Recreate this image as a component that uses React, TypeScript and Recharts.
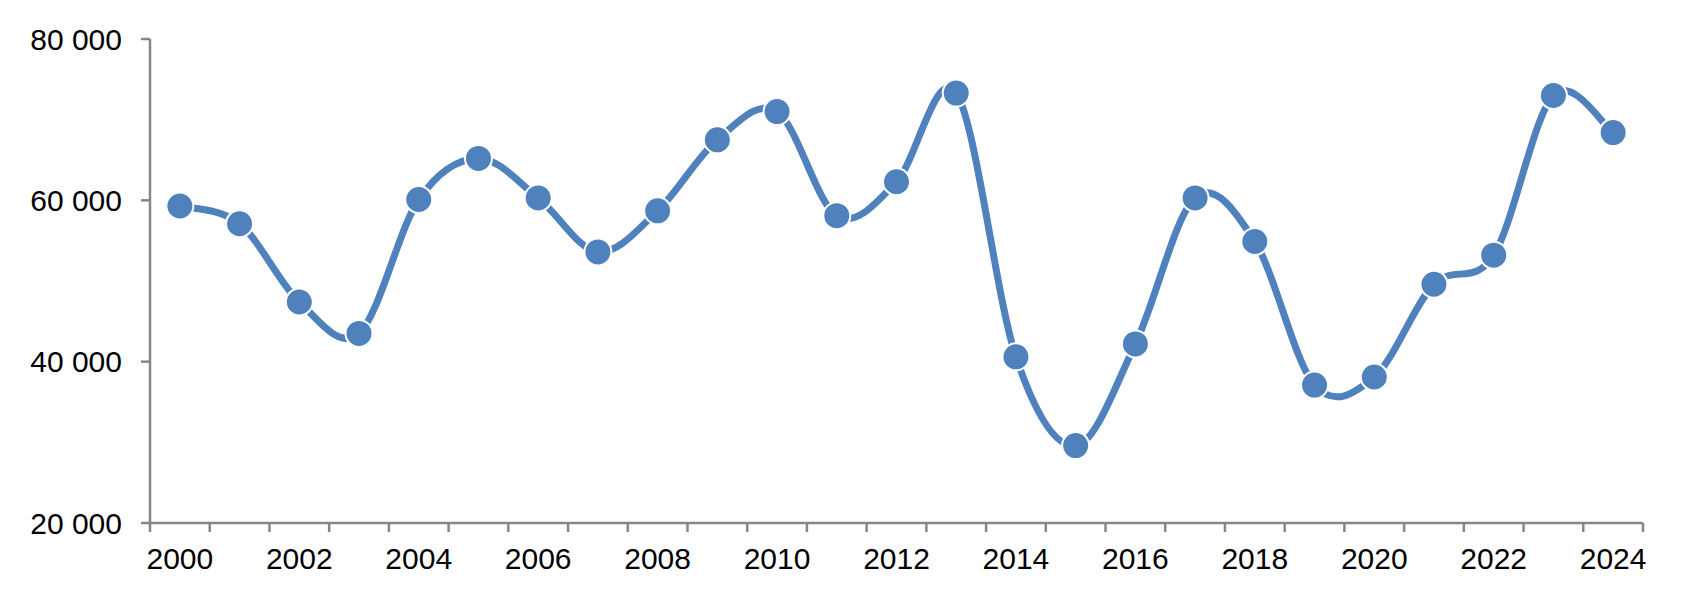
import type { ReactElement } from "react";
import { Line, LineChart, XAxis, YAxis } from "recharts";

const BLUE = "#4F81BD";
const AXIS = "#868686";
const FONT = "'Liberation Sans', Arial, sans-serif";

const years = [
  2000, 2001, 2002, 2003, 2004, 2005, 2006, 2007, 2008, 2009, 2010, 2011, 2012,
  2013, 2014, 2015, 2016, 2017, 2018, 2019, 2020, 2021, 2022, 2023, 2024,
];
const values = [
  59300, 57100, 47400, 43500, 60100, 65200, 60300, 53600, 58700, 67500, 71000, 58100, 62300,
  73300, 40600, 29600, 42200, 60300, 54900, 37100, 38100, 49600, 53200, 73000, 68400,
];
const labelYears = [2000, 2002, 2004, 2006, 2008, 2010, 2012, 2014, 2016, 2018, 2020, 2022, 2024];
const yTicks = [20000, 40000, 60000, 80000];

const data = years.map((year, i) => ({ year, value: values[i] }));

// tick marks sit between the years, labels under every other year
const boundaries = [...years.map((y) => y - 0.5), years[years.length - 1] + 0.5];
const xTicks = [...boundaries, ...labelYears].sort((a, b) => a - b);

const spaced = (v: number) => String(v).replace(/\B(?=(\d{3})+(?!\d))/g, " ");

/** Excel-style smoothed line: Catmull-Rom through every point. */
function smoothCurve(context: any) {
  let pts: [number, number][] = [];
  return {
    areaStart() {},
    areaEnd() {},
    lineStart() {
      pts = [];
    },
    point(x: number, y: number) {
      pts.push([+x, +y]);
    },
    lineEnd() {
      if (!pts.length) return;
      context.moveTo(pts[0][0], pts[0][1]);
      for (let i = 0; i < pts.length - 1; i += 1) {
        const p0 = pts[i - 1] ?? pts[i];
        const p1 = pts[i];
        const p2 = pts[i + 1];
        const p3 = pts[i + 2] ?? pts[i + 1];
        context.bezierCurveTo(
          p1[0] + (p2[0] - p0[0]) / 6,
          p1[1] + (p2[1] - p0[1]) / 6,
          p2[0] - (p3[0] - p1[0]) / 6,
          p2[1] - (p3[1] - p1[1]) / 6,
          p2[0],
          p2[1],
        );
      }
    },
  };
}

function YearTick(props: any): ReactElement {
  const { x, y, payload } = props;
  const v = payload.value as number;
  if (!Number.isInteger(v)) {
    return <line x1={x} x2={x} y1={y} y2={y + 9} stroke={AXIS} strokeWidth={2.5} />;
  }
  return (
    <text x={x} y={y + 46} textAnchor="middle" fill="#000" fontSize={30} fontFamily={FONT}>
      {v}
    </text>
  );
}

export default function App(): ReactElement {
  return (
    <div style={{ position: "absolute", left: 0, top: 0, width: 1681, height: 599, background: "#fff" }}>
      <LineChart width={1681} height={599} data={data} margin={{ top: 39, right: 38, bottom: 0, left: 0 }}>
        <XAxis
          dataKey="year"
          type="number"
          domain={[1999.5, 2024.5]}
          ticks={xTicks}
          interval={0}
          height={76}
          tickSize={0}
          tickMargin={0}
          tickLine={false}
          axisLine={{ stroke: AXIS, strokeWidth: 2.5 }}
          tick={YearTick}
        />
        <YAxis
          domain={[20000, 80000]}
          ticks={yTicks}
          width={150}
          tickSize={9}
          tickMargin={19}
          tickLine={{ stroke: AXIS, strokeWidth: 2.5 }}
          axisLine={{ stroke: AXIS, strokeWidth: 2.5 }}
          tick={{ fill: "#000", fontSize: 30, fontFamily: FONT }}
          tickFormatter={spaced}
        />
        <Line
          dataKey="value"
          type={smoothCurve as any}
          stroke={BLUE}
          strokeWidth={7}
          dot={{ r: 13.5, fill: BLUE, stroke: "#fff", strokeWidth: 2 }}
          activeDot={false}
          isAnimationActive={false}
        />
      </LineChart>
    </div>
  );
}
